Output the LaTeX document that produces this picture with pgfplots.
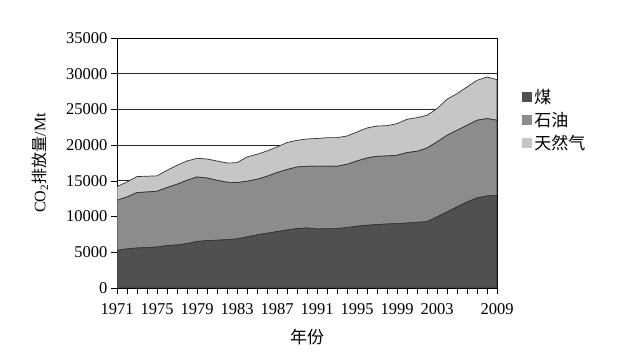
\documentclass[border=0pt]{standalone}
\usepackage{pgfplots}
\pgfplotsset{compat=1.18}
\usepackage{pgfplotstable}
\usepackage{fontspec}
\setmainfont{Liberation Serif}
\newfontfamily\cjk{Noto Sans CJK SC}
\definecolor{coalc}{HTML}{505050}
\definecolor{oilc}{HTML}{8C8C8C}
\definecolor{gasc}{HTML}{C6C6C6}
\pgfplotsset{layers/mylayers/.define layer set={axis background,axis grid,main,axis ticks,axis lines,axis tick labels,axis descriptions,axis foreground}{}}
\pgfplotstableread{
year coal oil gas
1971 5280 7000 1920
1972 5470 7270 2100
1973 5600 7760 2240
1974 5650 7790 2210
1975 5740 7800 2160
1976 5940 8120 2420
1977 6030 8490 2660
1978 6210 8870 2700
1979 6500 9040 2620
1980 6640 8760 2660
1981 6680 8400 2700
1982 6770 8030 2700
1983 6870 7890 2780
1984 7150 7790 3400
1985 7430 7790 3500
1986 7660 7980 3540
1987 7890 8260 3590
1988 8120 8460 3780
1989 8310 8630 3740
1990 8400 8640 3820
1991 8260 8800 3870
1992 8310 8730 4010
1993 8310 8730 4010
1994 8450 8870 3960
1995 8640 9140 4060
1996 8780 9420 4200
1997 8870 9570 4240
1998 8960 9520 4240
1999 9010 9570 4430
2000 9100 9850 4670
2001 9190 9950 4710
2002 9290 10310 4580
2003 9940 10500 4670
2004 10640 10740 5040
2005 11340 10740 5130
2006 12040 10740 5360
2007 12600 10880 5600
2008 12880 10840 5820
2009 12970 10510 5690
}\datatable
\begin{document}
\begin{tikzpicture}
\begin{axis}[
  set layers=mylayers,
  scale only axis, width=380pt, height=250pt,
  xmin=1971, xmax=2009, ymin=0, ymax=35000,
  xtick={1971,1975,1979,1983,1987,1991,1995,1999,2003,2009},
  minor xtick={1971,...,2009},
  ytick={0,5000,...,35000},
  xtick pos=left, ytick pos=left,
  tick align=outside, major tick length=6pt, minor tick length=6pt,
  tick style={black, line width=0.7pt},
  ymajorgrids, grid style={black!85, line width=0.8pt},
  axis line style={black, line width=0.8pt},
  /pgf/number format/assume math mode=true,
  /pgf/number format/1000 sep={},
  scaled y ticks=false,
  ticklabel style={font=\fontsize{16.5}{16.5}\selectfont},
  xticklabel style={yshift=-6pt},
  stack plots=y,
  xlabel={\cjk 年份},
  xlabel style={at={(rel axis cs:0.5,-0.196)}, anchor=center, font=\fontsize{17}{17}\selectfont},
  ylabel={CO\textsubscript{2}{\cjk 排放量}/Mt},
  ylabel style={at={(rel axis cs:-0.2026,0.5)}, anchor=center, rotate=0, font=\fontsize{16}{16}\selectfont},
  legend style={at={(rel axis cs:1.066,0.672)}, anchor=west, draw=none, fill=none,
    font=\fontsize{17}{17}\selectfont, row sep=3pt, inner sep=0pt},
  legend cell align=left,
  legend image code/.code={\fill[#1,draw=none] (0pt,-5pt) rectangle (10pt,5pt);},
]
\addplot[fill=coalc, draw=black!80, line width=0.7pt] table[x=year,y=coal]{\datatable} \closedcycle;
\addlegendentry{\cjk 煤}
\addplot[fill=oilc, draw=black!80, line width=0.7pt] table[x=year,y=oil]{\datatable} \closedcycle;
\addlegendentry{\cjk 石油}
\addplot[fill=gasc, draw=black!80, line width=0.7pt] table[x=year,y=gas]{\datatable} \closedcycle;
\addlegendentry{\cjk 天然气}
\end{axis}
\path (current axis.south west) ++(-117pt,-64pt) rectangle ++(628pt,352pt);
\end{tikzpicture}
\end{document}
